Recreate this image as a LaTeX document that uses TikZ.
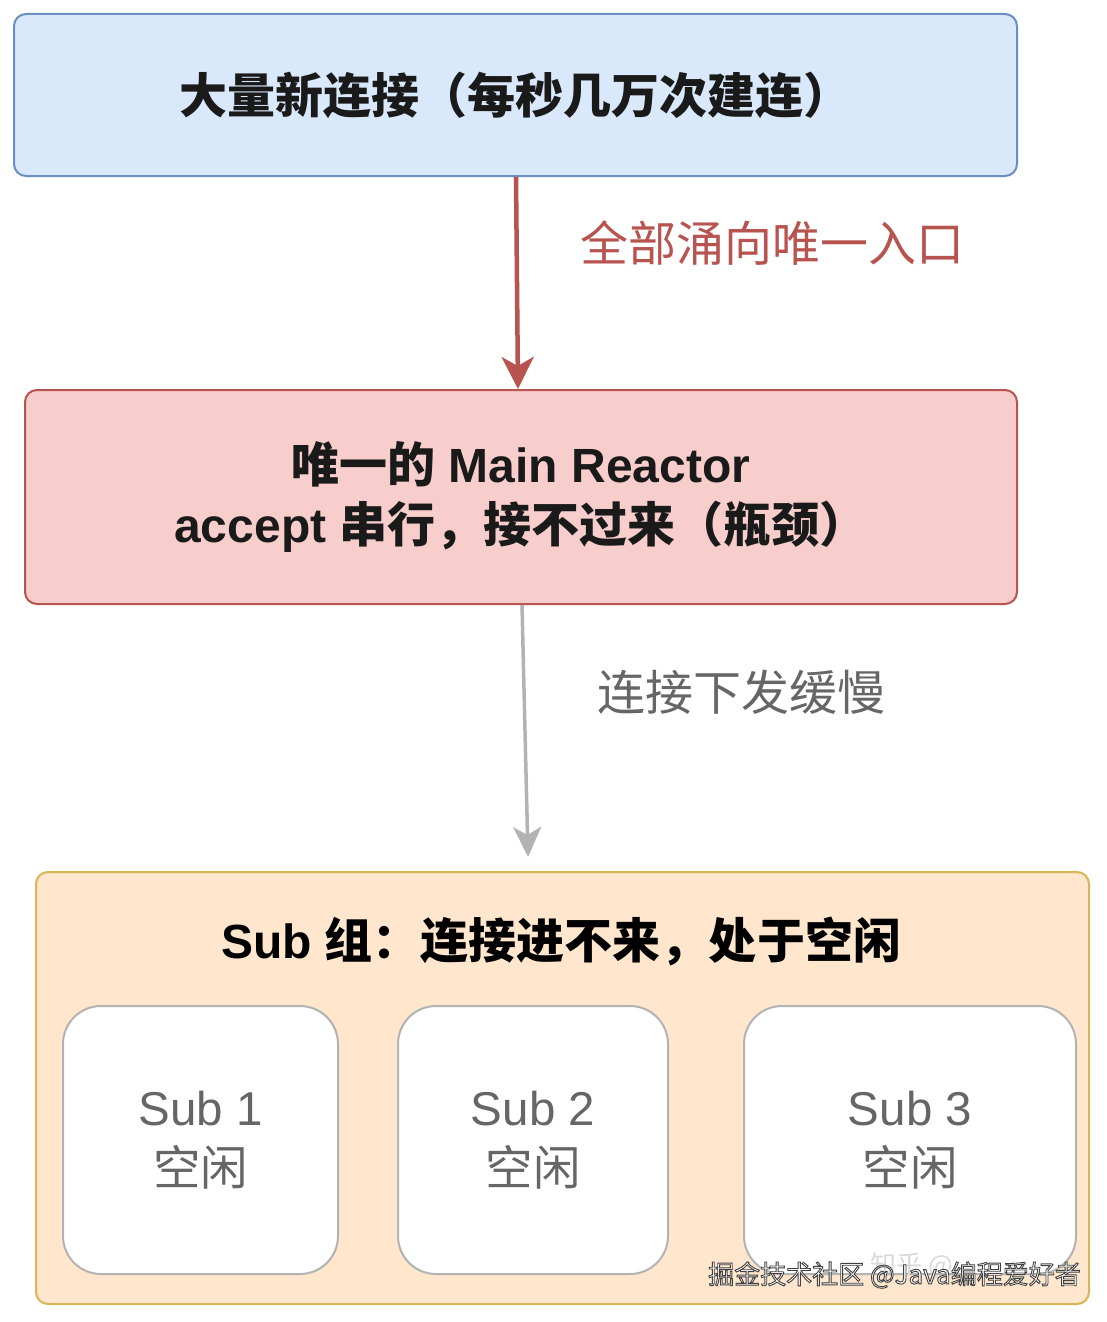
\documentclass[tikz,border=0pt]{standalone}
\usepackage{fontspec}
\setmainfont{Liberation Sans}
\newfontfamily\cjk{Noto Sans CJK SC}
\newcommand{\C}[1]{{\cjk #1}}
\newcommand{\outlined}[1]{\special{pdf:code q 0.25 G 2 Tr 0.9 w}#1\special{pdf:code 0 Tr Q}}
\usetikzlibrary{arrows.meta}
\definecolor{blueF}{HTML}{DAE8FC}
\definecolor{blueD}{HTML}{6C8EBF}
\definecolor{redF}{HTML}{F8CECC}
\definecolor{redD}{HTML}{B85450}
\definecolor{orgF}{HTML}{FFE6CC}
\definecolor{orgD}{HTML}{D6B656}
\definecolor{grayD}{HTML}{B3B3B3}
\definecolor{grayT}{HTML}{666666}
\definecolor{darkT}{HTML}{1A1A1A}
\tikzset{
  box/.style={draw, line width=2pt, rounded corners=12pt, align=center, inner sep=0pt},
  subbox/.style={draw=grayD, fill=white, line width=2pt, rounded corners=38pt, align=center, inner sep=0pt,
    text=grayT, font=\fontsize{47.5}{60}\selectfont},
  big/.style={font=\fontsize{48}{60}\selectfont},
  bigb/.style={font=\fontsize{48}{60}\selectfont\bfseries},
  redarrow/.style={draw=redD, line width=4.5pt, -{Stealth[length=32pt,width=32pt,inset=9pt]}},
  grayarrow/.style={draw=grayD, line width=3.5pt, -{Stealth[length=30pt,width=28pt,inset=8pt]}},
}
\begin{document}
\begin{tikzpicture}[x=1pt,y=-1pt]
\useasboundingbox[fill=white] (0,0) rectangle (1107,1322);
% top box
\node[box, fill=blueF, draw=blueD, minimum width=1003pt, minimum height=162pt, bigb, text=darkT] (top) at (515.5,95)
  {\C{大量新连接（每秒几万次建连）}};
% middle box
\node[box, fill=redF, draw=redD, minimum width=992pt, minimum height=214pt, bigb, text=darkT] (mid) at (521,497)
  {\C{唯一的} Main Reactor\\ accept \C{串行，接不过来（瓶颈）}};
% bottom group
\node[box, fill=orgF, draw=orgD, minimum width=1053pt, minimum height=432pt] (grp) at (562.5,1088) {};
\node[bigb, text=black, inner sep=0pt] (grptitle) at (561,941) {Sub \C{组：连接进不来，处于空闲}};
\node[subbox, minimum width=275pt, minimum height=268pt] (s1) at (200.5,1140) {Sub 1\\ \C{空闲}};
\node[subbox, minimum width=270pt, minimum height=268pt] (s2) at (533,1140) {Sub 2\\ \C{空闲}};
\node[subbox, minimum width=332pt, minimum height=268pt] (s3) at (910,1140) {Sub 3\\ \C{空闲}};
% arrows
\draw[redarrow] ([xshift=0.5pt]top.south) -- ([xshift=-3pt]mid.north);
\coordinate (gend) at (528,857);
\draw[grayarrow] ([xshift=1pt]mid.south) -- (gend);
% labels
\node[big, text=redD, anchor=west, inner sep=0pt] (lab1) at (580,243) {\C{全部涌向唯一入口}};
\node[big, text=grayT, anchor=west, inner sep=0pt] (lab2) at (597,692) {\C{连接下发缓慢}};
% watermark
\node[font=\cjk\fontsize{26}{30}\selectfont, text=black!15, anchor=west, inner sep=0pt] (wm0) at (870,1266) {知乎 @};
\node[font=\cjk\fontsize{26}{30}\selectfont, text=white, anchor=west, inner sep=0pt] (wm) at (708,1275) {\outlined{掘金技术社区 @Java编程爱好者}};
\end{tikzpicture}
\end{document}
